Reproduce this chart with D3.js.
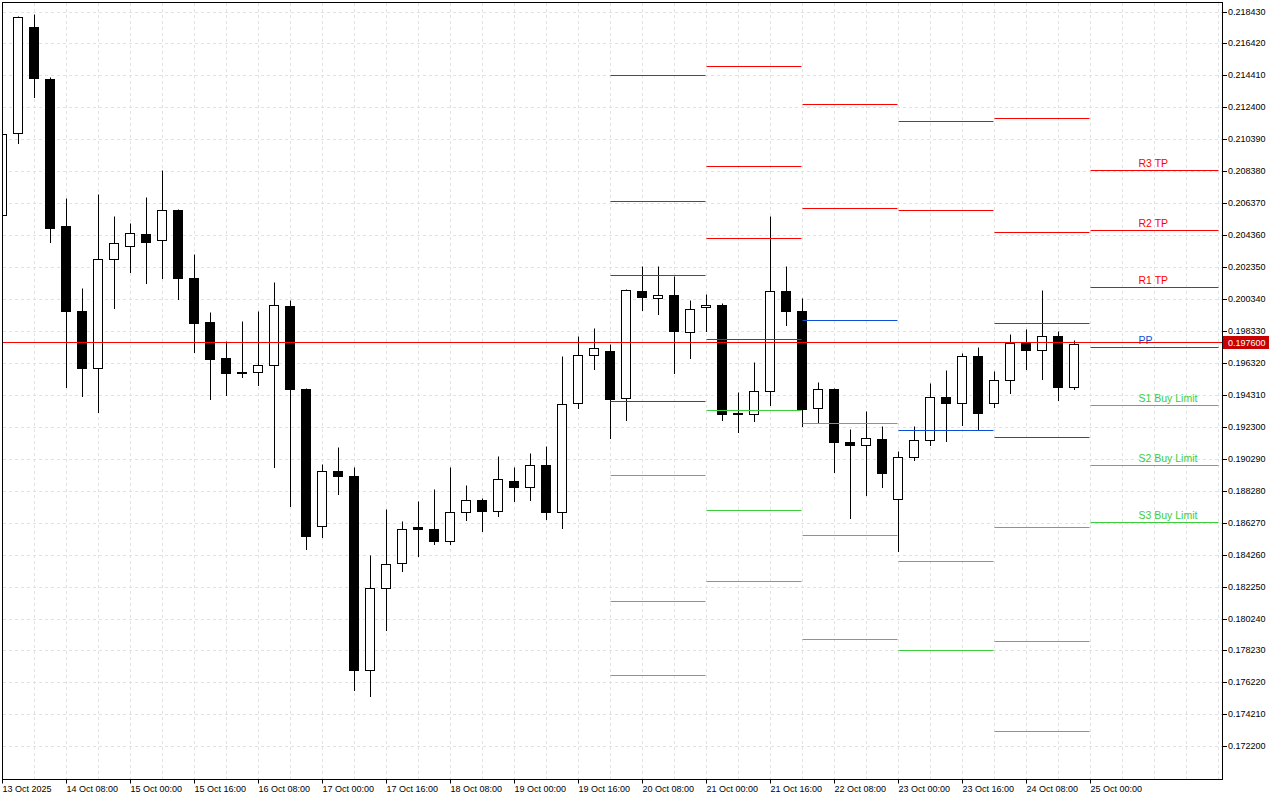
<!DOCTYPE html>
<html>
<head>
<meta charset="utf-8">
<script src="https://cdn.jsdelivr.net/npm/d3@7"></script>
<style>
    body { margin: 0; background: #fff; }
    svg { display: block; }
</style>
</head>
<body>
<div id="chart"></div>
<script>
    // 4h bars, first bar 13 Oct 2025 16:00
    var firstBar = "2025-10-13T16:00:00Z";

    var open = [0.20562, 0.21078, 0.21745, 0.21418, 0.20493, 0.19959, 0.19598, 0.20286, 0.20365, 0.20443,
        0.20405, 0.20594, 0.20166, 0.19891, 0.19663, 0.19577, 0.19575, 0.19619, 0.19992, 0.19470,
        0.18606, 0.18954, 0.18923, 0.17700, 0.18216, 0.18373, 0.18602, 0.18589, 0.18512, 0.18694,
        0.18770, 0.18701, 0.18889, 0.18852, 0.18990, 0.18694, 0.19380, 0.19682, 0.19709, 0.19411,
        0.20084, 0.20040, 0.20061, 0.19826, 0.19984, 0.19998, 0.19314, 0.19311, 0.19455, 0.20084,
        0.19960, 0.19347, 0.19470, 0.19135, 0.19113, 0.19155, 0.18776, 0.19038, 0.19147, 0.19420,
        0.19380, 0.19677, 0.19380, 0.19525, 0.19757, 0.19713, 0.19803, 0.19481];
    var high = [0.21099, 0.21816, 0.21829, 0.21430, 0.20669, 0.20105, 0.20696, 0.20558, 0.20514, 0.20678,
        0.20847, 0.20602, 0.20319, 0.19954, 0.19772, 0.19898, 0.19960, 0.20143, 0.20030, 0.19476,
        0.18996, 0.19105, 0.18977, 0.18421, 0.18715, 0.18640, 0.18765, 0.18841, 0.18979, 0.18866,
        0.18784, 0.19048, 0.18979, 0.19067, 0.19111, 0.19677, 0.19803, 0.19854, 0.19751, 0.20099,
        0.20244, 0.20244, 0.20182, 0.20030, 0.20067, 0.20011, 0.19451, 0.19640, 0.20558, 0.20244,
        0.20040, 0.19514, 0.19476, 0.19218, 0.19331, 0.19233, 0.19080, 0.19235, 0.19508, 0.19589,
        0.19694, 0.19734, 0.19583, 0.19816, 0.19847, 0.20093, 0.19835, 0.19776];
    var low = [0.20533, 0.21013, 0.21308, 0.20390, 0.19479, 0.19421, 0.19321, 0.19975, 0.20201, 0.20138,
        0.20164, 0.20032, 0.19701, 0.19403, 0.19428, 0.19541, 0.19491, 0.18975, 0.18730, 0.18459,
        0.18537, 0.18805, 0.17572, 0.17534, 0.17950, 0.18321, 0.18415, 0.18490, 0.18490, 0.18641,
        0.18572, 0.18667, 0.18761, 0.18767, 0.18648, 0.18591, 0.19346, 0.19591, 0.19157, 0.19270,
        0.19967, 0.19937, 0.19570, 0.19660, 0.19830, 0.19270, 0.19195, 0.19264, 0.19365, 0.19868,
        0.19233, 0.19257, 0.18943, 0.18654, 0.18799, 0.18849, 0.18446, 0.19023, 0.19118, 0.19138,
        0.19243, 0.19212, 0.19352, 0.19440, 0.19596, 0.19528, 0.19396, 0.19465];
    var close = [0.21072, 0.21808, 0.21422, 0.20484, 0.19956, 0.19598, 0.20286, 0.20386, 0.20449, 0.20390,
        0.20594, 0.20164, 0.19883, 0.19654, 0.19566, 0.19569, 0.19619, 0.19996, 0.19465, 0.18541,
        0.18952, 0.18918, 0.17698, 0.18216, 0.18367, 0.18587, 0.18585, 0.18509, 0.18694, 0.18770,
        0.18698, 0.18902, 0.18849, 0.18990, 0.18692, 0.19374, 0.19682, 0.19726, 0.19403, 0.20091,
        0.20044, 0.20059, 0.19830, 0.19971, 0.19996, 0.19308, 0.19308, 0.19455, 0.20084, 0.19956,
        0.19342, 0.19468, 0.19132, 0.19113, 0.19160, 0.18937, 0.19040, 0.19147, 0.19418, 0.19377,
        0.19677, 0.19314, 0.19525, 0.19757, 0.19711, 0.19801, 0.19478, 0.19750];

    var lastPrice = 0.197600;

    // daily pivot levels
    var pivotDays = ["2025-10-20", "2025-10-21", "2025-10-22", "2025-10-23", "2025-10-24", "2025-10-25"];
    var r3 = [0.21445, 0.21500, 0.21961, 0.21154, 0.21173, 0.20845];
    var r2 = [0.20652, 0.20873, 0.21261, 0.20594, 0.20457, 0.20468];
    var r1 = [0.20187, 0.20420, 0.20606, 0.19765, 0.19883, 0.20111];
    var pp = [0.19394, 0.19784, 0.19902, 0.19212, 0.19166, 0.19732];
    var s1 = [0.18929, 0.19338, 0.19254, 0.18386, 0.18600, 0.19367];
    var s2 = [0.18136, 0.18709, 0.18550, 0.17826, 0.17883, 0.18990];
    var s3 = [0.17671, 0.18262, 0.17895, 0.16998, 0.17317, 0.18631];
    var levelNames = ["R3 TP", "R2 TP", "R1 TP", "PP", "S1 Buy Limit", "S2 Buy Limit", "S3 Buy Limit"];

    var yTicks = [0.218430, 0.216420, 0.214410, 0.212400, 0.210390, 0.208380, 0.206370, 0.204360,
        0.202350, 0.200340, 0.198330, 0.196320, 0.194310, 0.192300, 0.190290, 0.188280, 0.186270,
        0.184260, 0.182250, 0.180240, 0.178230, 0.176220, 0.174210, 0.172200];

    var xTickTimes = ["2025-10-13T16:00", "2025-10-14T08:00", "2025-10-15T00:00", "2025-10-15T16:00",
        "2025-10-16T08:00", "2025-10-17T00:00", "2025-10-17T16:00", "2025-10-18T08:00", "2025-10-19T00:00",
        "2025-10-19T16:00", "2025-10-20T08:00", "2025-10-21T00:00", "2025-10-21T16:00", "2025-10-22T08:00",
        "2025-10-23T00:00", "2025-10-23T16:00", "2025-10-24T08:00", "2025-10-25T00:00"];
    var xTickLabels = ["13 Oct 2025", "14 Oct 08:00", "15 Oct 00:00", "15 Oct 16:00", "16 Oct 08:00",
        "17 Oct 00:00", "17 Oct 16:00", "18 Oct 08:00", "19 Oct 00:00", "19 Oct 16:00", "20 Oct 08:00",
        "21 Oct 00:00", "21 Oct 16:00", "22 Oct 08:00", "23 Oct 00:00", "23 Oct 16:00", "24 Oct 08:00",
        "25 Oct 00:00"];

    var width = 1280, height = 800;
    var plotL = 2.5, plotT = 2.5, plotR = 1222.5, plotB = 779.5;
    var font = "'Liberation Sans', Arial, sans-serif";
    var red = "#ff0000", blue = "#0a4fd6", green = "#3ccc3c";
    var levelColors = [red, red, red, blue, green, green, green];

    var t0 = new Date(firstBar);
    var times = open.map((d, i) => d3.utcHour.offset(t0, 4 * i));
    var utc = s => new Date(s + (s.length > 10 ? ":00Z" : "T00:00:00Z"));

    var x = d3.scaleUtc()
        .domain([t0, d3.utcHour.offset(t0, 4)])
        .range([plotL, plotL + 16]);

    var y = d3.scaleLinear()
        .domain([0.172200, 0.218430])
        .range([746.8, 12]);

    var py = v => Math.floor(y(v)) + 0.5;   // crisp row

    var svg = d3.select('#chart')
        .append('svg')
        .attr('width', width)
        .attr('height', height);

    svg.append('rect').attr('width', width).attr('height', height).attr('fill', '#fff');

    svg.append('clipPath').attr('id', 'plot')
        .append('rect')
        .attr('x', plotL).attr('y', plotT)
        .attr('width', plotR - plotL).attr('height', plotB - plotT);

    // grid
    var grid = svg.append('g')
        .attr('stroke', '#e2e2e2')
        .attr('stroke-dasharray', '3,3')
        .attr('shape-rendering', 'crispEdges');

    grid.selectAll('line.h')
        .data(yTicks)
        .join('line')
        .attr('class', 'h')
        .attr('x1', plotL).attr('x2', plotR)
        .attr('y1', d => py(d)).attr('y2', d => py(d));

    var gridTimes = d3.range(2, 80, 2)
        .map(i => d3.utcHour.offset(t0, 4 * i))
        .filter(t => x(t) < plotR);

    grid.selectAll('line.v')
        .data(gridTimes)
        .join('line')
        .attr('class', 'v')
        .attr('x1', d => x(d)).attr('x2', d => x(d))
        .attr('y1', plotT).attr('y2', plotB);

    // candles
    var plot = svg.append('g').attr('clip-path', 'url(#plot)');

    var candles = plot.append('g')
        .selectAll('g')
        .data(times.map((t, i) => ({ t: t, o: open[i], h: high[i], l: low[i], c: close[i] })))
        .join('g');

    candles.append('line')
        .attr('x1', d => x(d.t)).attr('x2', d => x(d.t))
        .attr('y1', d => py(d.h)).attr('y2', d => py(d.l) + 0.5)
        .attr('stroke', '#000');

    candles.append('rect')
        .attr('x', d => x(d.t) - 5)
        .attr('width', 9)
        .attr('y', d => py(Math.max(d.o, d.c)))
        .attr('height', d => Math.max(0, py(Math.min(d.o, d.c)) - py(Math.max(d.o, d.c))))
        .attr('fill', d => d.c >= d.o ? '#fff' : '#000')
        .attr('stroke', '#000');

    // pivot levels
    var levels = [r3, r2, r1, pp, s1, s2, s3];
    var segs = [];
    pivotDays.forEach((day, i) => {
        var x1 = x(utc(day));
        var x2 = i < pivotDays.length - 1 ? x(utc(pivotDays[i + 1])) - 1 : plotR - 4;
        levels.forEach((lv, j) => segs.push({ x1: x1, x2: x2, v: lv[i], color: levelColors[j], name: levelNames[j], last: i === pivotDays.length - 1 }));
    });

    plot.append('g')
        .selectAll('line')
        .data(segs)
        .join('line')
        .attr('x1', d => d.x1).attr('x2', d => d.x2)
        .attr('y1', d => py(d.v)).attr('y2', d => py(d.v))
        .attr('stroke', d => d.color);

    plot.append('g')
        .selectAll('text')
        .data(segs.filter(d => d.last))
        .join('text')
        .attr('x', d => d.x1 + 48)
        .attr('y', d => py(d.v) - 3.5)
        .attr('fill', d => d.color)
        .attr('font-family', font)
        .attr('font-size', 10.5)
        .text(d => d.name);

    // current price line
    plot.append('line')
        .attr('x1', plotL).attr('x2', plotR)
        .attr('y1', py(lastPrice) - 1).attr('y2', py(lastPrice) - 1)
        .attr('stroke', '#ff0000');

    // axes
    var yAxis = d3.axisRight(y)
        .tickValues(yTicks)
        .tickFormat(d3.format('.6f'))
        .tickSize(4)
        .tickSizeOuter(0)
        .offset(0);

    svg.append('g')
        .attr('transform', `translate(${plotR},0)`)
        .call(yAxis)
        .call(g => g.select('.domain').remove())
        .call(g => g.selectAll('.tick').attr('transform', d => `translate(0,${py(d)})`))
        .call(g => g.selectAll('text').attr('font-family', font).attr('font-size', 9).attr('x', 5.5))
        .call(g => g.selectAll('line').attr('shape-rendering', 'crispEdges'));

    var xAxis = d3.axisBottom(x)
        .tickValues(xTickTimes.map(utc))
        .tickFormat((d, i) => xTickLabels[i])
        .tickSize(4)
        .tickSizeOuter(0)
        .offset(0);

    svg.append('g')
        .attr('transform', `translate(0,${plotB})`)
        .call(xAxis)
        .call(g => g.select('.domain').remove())
        .call(g => g.selectAll('text')
            .attr('font-family', font).attr('font-size', 9)
            .attr('text-anchor', 'start').attr('x', 0).attr('y', 6));

    // price label
    var pl = svg.append('g').attr('transform', `translate(${plotR + 0.5},${py(lastPrice) - 1})`);
    pl.append('rect')
        .attr('x', 0).attr('y', -6.5)
        .attr('width', 46).attr('height', 13)
        .attr('fill', '#c80000');
    pl.append('text')
        .attr('x', 5).attr('y', 0).attr('dy', '0.35em')
        .attr('fill', '#fff')
        .attr('font-family', font).attr('font-size', 9)
        .text(d3.format('.6f')(lastPrice));

    // frame
    svg.append('rect')
        .attr('x', plotL).attr('y', plotT)
        .attr('width', plotR - plotL).attr('height', plotB - plotT)
        .attr('fill', 'none')
        .attr('stroke', '#000');
</script>
</body>
</html>
